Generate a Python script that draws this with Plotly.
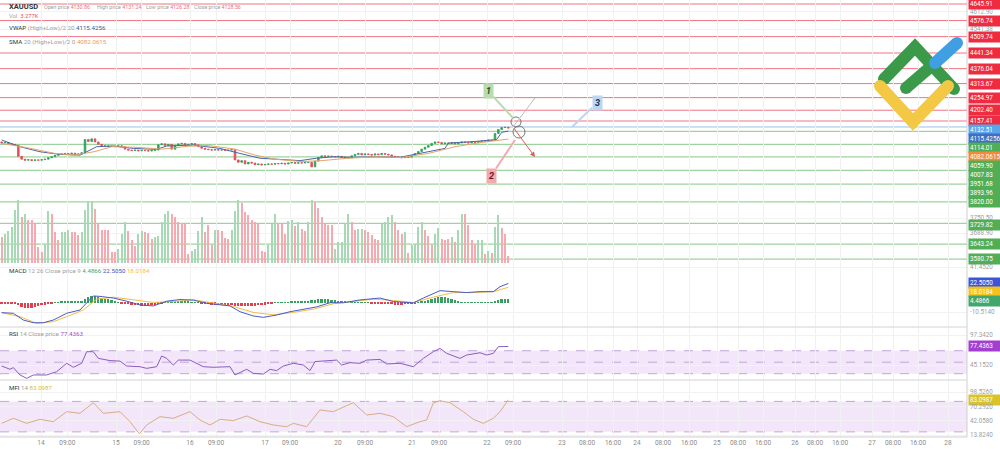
import plotly.graph_objects as go

# ---------------- data ----------------
first_open = 4070.0
closes = [
    4066, 4068, 4062, 4060, 4056, 4010, 3998, 3994, 3996, 3993,
    3995, 3994, 3996, 3998, 4004, 4008, 4014, 4018, 4020, 4022,
    4021, 4023, 4020, 4019, 4025, 4080, 4072, 4083, 4070, 4060,
    4054, 4052, 4053, 4051, 4052, 4054, 4050, 4040, 4036, 4034,
    4036, 4033, 4035, 4034, 4032, 4035, 4036, 4058, 4062, 4055,
    4060, 4040, 4055, 4062, 4064, 4058, 4060, 4063, 4058, 4050,
    4044, 4040, 4038, 4036, 4038, 4036, 4037, 4035, 4036, 4038,
    3995, 3985, 3992, 3978, 3985, 3982, 3975, 3978, 3974, 3976,
    3978, 3977, 3980, 3979, 3981, 3978, 3982, 3984, 3981, 3983,
    3982, 3984, 3985, 3966, 3990, 4005, 4012, 4010, 4011, 4009,
    4008, 4010, 4005, 4006, 4004, 4012, 4018, 4022, 4016, 4020,
    4018, 4015, 4020, 4017, 4022, 4019, 4016, 4010, 4008, 4006,
    4004, 4008, 4006, 4014, 4022, 4030, 4040, 4048, 4055, 4064,
    4070, 4068, 4062, 4066, 4064, 4067, 4062, 4066, 4070, 4068,
    4066, 4069, 4068, 4072, 4074, 4073, 4078, 4076, 4105, 4122,
    4130, 4130.86, 4128.56]
last_high, last_low = 4131.24, 4126.28

volumes = [
    12.7, 14.3, 15.6, 17.6, 25.8, 31.0, 22.5, 24.1, 21.2, 20.9,
    19.2, 7.8, 5.4, 9.5, 25.4, 24.1, 15.2, 11.1, 15.2, 15.2,
    16.0, 15.2, 15.2, 13.5, 15.2, 26.1, 30.3, 30.3, 26.6, 19.2,
    16.3, 16.3, 16.0, 5.4, 5.4, 7.0, 14.3, 20.0, 15.6, 11.4,
    8.2, 14.3, 15.6, 15.2, 14.7, 11.9, 12.7, 13.0, 20.0, 24.1,
    25.4, 24.1, 22.5, 20.0, 19.6, 19.2, 4.2, 5.9, 7.0, 15.6,
    22.5, 15.2, 18.4, 8.6, 16.3, 16.3, 15.6, 12.4, 11.9, 16.0,
    25.4, 30.6, 29.3, 24.9, 23.3, 20.9, 20.0, 19.2, 5.9, 5.4,
    8.6, 19.2, 23.8, 19.6, 18.9, 14.3, 20.5, 21.2, 17.9, 20.0,
    16.8, 15.6, 20.0, 31.0, 29.8, 27.1, 22.5, 19.2, 18.4, 18.4,
    7.0, 10.3, 10.3, 19.6, 24.1, 20.0, 16.3, 16.8, 16.8, 16.3,
    15.2, 13.5, 11.9, 11.1, 19.2, 20.0, 22.5, 23.3, 20.0, 16.3,
    14.3, 15.2, 4.9, 8.6, 9.5, 17.6, 20.0, 16.0, 13.0, 8.6,
    14.0, 17.3, 11.9, 11.4, 11.9, 12.7, 10.3, 16.3, 23.8, 23.8,
    18.4, 11.1, 9.5, 11.1, 11.1, 4.2, 5.9, 4.9, 17.6, 23.3,
    17.3, 14.3, 3.277]
vol_dir = ("rgggggrgrr" "rrrggrrrgg" "grrrggggrr" "rrrrrgggrr" "rggrrrgggg"
           "grrrrrrggg" "grrrgrrrrg" "ggrrrrrrrr" "gggrrrggrg" "rrggrrrrrr"
           "gggggrrggr" "rrrrggggrr" "rgrggggrrr" "ggrrrgrggr" "rrrggrgrgg" "rrr")

vwap_x = [0, 5.5, 11.5, 17.5, 23.5, 25.5, 28.5, 33.5, 39.5, 46.5,
          49.5, 57.5, 65.5, 71.5, 77.5, 89.5, 94.5, 99.5, 104.5, 112,
          119.5, 133, 134, 142, 148.5, 150, 152]
vwap_y = [4078, 4050, 4029, 4018, 4015, 4029, 4050, 4053, 4043, 4039,
          4053, 4057, 4043, 4022, 4002, 3992, 4002, 4008, 4006, 4008,
          4006, 4043, 4065, 4072, 4080, 4110, 4115.4256]
sma_x = [0, 8, 16, 22, 28, 33, 40, 48, 56, 62, 70, 76, 82, 90, 96, 104,
         112, 120, 128, 136, 144, 150, 152]
sma_y = [4064, 4045, 4022, 4015, 4030, 4050, 4048, 4040, 4052, 4055, 4040,
         4015, 3998, 3988, 3992, 4002, 4008, 4005, 4022, 4050, 4068, 4078, 4082.0615]

macd_hist = (
    [-0.3, -0.3, -0.3, -0.3]
    + [-1.5, -3, -4.5, -5.5, -6, -5.8, -5, -4, -3, -2]
    + [-1, -0.5]
    + [0.8, 1, 1.2, 1.5, 1.5, 1.8, 2, 2, 2.2, 4, 7, 8.5, 8, 7, 6, 5, 4, 3, 2, 1]
    + [-0.5, -1, -1.5, -2, -2.5, -3, -3.5, -3.5, -3, -3, -2.5, -1.5, -0.5]
    + [0.5, 1.5, 2, 2, 2, 1.5, 1.5, 1.5, 1, 1, 0.5]
    + [-0.5, -1, -1.5, -2, -2, -2.5, -2.5, -3, -3, -3, -3.5, -4, -4, -4, -4,
       -3.5, -3.5, -3, -2.5, -2, -1.5, -0.5]
    + [0.5, 0.5, 1, 1, 1, 1.5, 1.5, 1.5, 1.5, 2, 2.5, 3, 3.5, 4, 4.5, 4.5, 4,
       3.5, 3, 2.5, 2, 1.5]
    + [1, 0.5, 0.5, 0.5, 0.5, 0.3, 0.2, -0.2, -0.5, -0.8, -1, -1.2]
    + [-1.5, -1.8, -2, -2, -2, -1.8, -1.5, -1, -0.5]
    + [0.5, 1.5, 2.5, 3.5, 4.5, 5.5, 6.5, 7, 6.5, 5.5, 4.5, 3.5, 2]
    + [1, 0.5, 0.5, 0.3, 0.3, 0.3, 0.3, 0.3, 0.3, 0.5]
    + [2, 3.5, 4.5, 4.6, 4.4866])
macd_x = [0, 3.5, 6.5, 9.5, 12.5, 15.5, 19.5, 23.5, 25.5, 27.5,
          29.5, 33.5, 37.5, 41.5, 45.5, 49.5, 53.5, 57.5, 61.5, 68.5,
          71.5, 75.5, 78.5, 82.5, 86.5, 90.5, 94.5, 98.5, 102.5, 107.5,
          113.5, 117.5, 123.5, 126.5, 131.5, 135.5, 139.5, 143.5, 147.5, 149.5, 152]
macd_v = [-11.3, -12.0, -19.8, -22.9, -22.9, -19.8, -12.0, -8.2, 0.0, 8.0,
          7.5, 5.6, 2.0, -2.4, -3.5, 2.0, 3.9, 3.2, -0.5, -3.5,
          -10.2, -15.1, -16.7, -14.0, -10.2, -7.5, -4.6, 0.2, 0.2, 3.4,
          5.6, 1.6, 0.0, 5.6, 14.1, 13.0, 11.9, 13.0, 13.0, 18.7, 22.5050]
signal_x = [0, 5.5, 10.5, 15.5, 19.5, 24.5, 28.5, 33.5, 39.5, 45.5,
            51.5, 57.5, 63.5, 69.5, 75.5, 81.5, 87.5, 93.5, 99.5, 105.5,
            111.5, 117.5, 123.5, 129.5, 135.5, 141.5, 147.5, 152]
signal_v = [-11.3, -15.9, -23.6, -21.7, -15.9, -8.2, 4.3, 6.6, 3.6, 0.5,
            1.6, 3.6, -0.2, -4.1, -11.0, -13.7, -11.0, -7.2, -1.0, 1.6,
            4.3, 2.8, 0.5, 6.6, 11.9, 11.9, 13.0, 18.0184]

rsi_x = [0, 2.5, 3.5, 5.5, 7.5, 9.5, 13.5, 16.5, 19.5, 21.5,
         24, 25.5, 27.5, 29, 32.5, 35.5, 37.5, 41.5, 43.5, 46.5,
         48, 49.5, 51.5, 53, 56.5, 58.5, 60.5, 63.5, 68.5, 70,
         73.5, 75.5, 78.5, 80.5, 82.5, 84.5, 87.5, 90.5, 92.5, 94,
         97.5, 100.5, 102, 104.5, 107.5, 109.5, 113.5, 115.5, 119.5, 123.5,
         126.5, 129.5, 131.5, 133.5, 137.5, 139.5, 143.5, 145.5, 147.5, 149, 152]
rsi_v = [43.4, 37.7, 40.6, 27.8, 22.0, 27.8, 27.8, 33.5, 48.1, 41.2,
         48.1, 68.3, 68.3, 56.7, 52.8, 51.9, 43.4, 42.2, 39.3, 42.2,
         60.8, 56.7, 45.1, 53.7, 53.7, 48.1, 42.2, 41.2, 42.2, 27.8,
         37.7, 30.6, 29.4, 37.7, 35.4, 43.4, 48.1, 45.1, 35.4, 51.1,
         52.8, 53.7, 45.1, 49.2, 48.1, 53.7, 54.9, 47.0, 48.1, 42.2,
         56.7, 68.3, 74.1, 65.4, 56.7, 62.5, 66.5, 62.5, 65.4, 77.0, 77.4363]

mfi_x = [0, 3.5, 7.5, 11.5, 15.5, 19.5, 23.5, 27.5, 30.5, 35.5,
         38.5, 41.3, 43.5, 47.5, 51.5, 56.5, 59.5, 62.5, 65.5, 69.5,
         73.5, 77.5, 81.5, 85.5, 87.5, 91.5, 95.5, 99.5, 105.5, 109.5,
         113.5, 117.5, 119.5, 121.5, 125.5, 127.5, 129.5, 131.5, 134.5, 138.5,
         141.5, 144.5, 147.5, 149.5, 152]
mfi_v = [36.8, 46.7, 36.8, 44.7, 40.1, 59.8, 56.5, 77.5, 56.5, 59.8,
         40.1, 16.0, 33.5, 50.0, 46.7, 59.8, 43.4, 33.5, 44.7, 42.1,
         51.3, 40.1, 33.5, 30.2, 36.8, 30.2, 63.1, 59.8, 77.5, 53.2,
         56.5, 50.0, 40.1, 30.2, 40.1, 43.4, 76.9, 81.4, 77.5, 59.8,
         44.7, 36.8, 46.7, 59.8, 83.0987]

resistance_levels = [4645.91, 4576.74, 4509.74, 4441.34, 4376.04, 4313.67,
                     4254.97, 4202.40, 4157.41]
blue_level = 4132.51
support_levels = [4114.01, 4059.90, 4007.83, 3951.68, 3893.96, 3820.00,
                  3729.82, 3643.24, 3580.75]
price_ticks = [4612.90, 4541.38, 3750.50, 3688.90]
macd_ticks = [41.4520, -10.5140]
rsi_ticks = [97.3420, 45.1520, 19.0570]
mfi_ticks = [98.5260, 70.2920, 42.0580, 13.8240]

x_tick_pos = [11.8, 19.7, 34.3, 42.0, 56.5, 64.3, 79.0, 86.5, 100.9, 109.0,
              123.1, 131.2, 145.6, 153.4, 168.1, 175.6, 183.4, 190.6, 198.4,
              206.2, 214.6, 220.9, 228.4, 238.0, 244.0, 251.5, 261.1, 267.4,
              274.9, 283.9]
x_tick_text = ["14", "09:00", "15", "09:00", "16", "09:00", "17", "09:00", "20",
               "09:00", "21", "09:00", "22", "09:00", "23", "08:00", "16:00",
               "24", "08:00", "16:00", "25", "08:00", "16:00", "26", "08:00",
               "16:00", "27", "08:00", "16:00", "28"]

# ---------------- layout geometry ----------------
W, H = 1000, 449
MR, MB = 33, 12
PW, PH = W - MR, H - MB
FONT = "Roboto"

panels = {"main": (0, 263), "macd": (263, 327), "rsi": (327, 380), "mfi": (380, 437)}
ranges = {"main": [3564.6, 4662.6], "macd": [-27.84, 46.07],
          "rsi": [19.06, 111.26], "mfi": [9.88, 122.16]}
yrefs = {"main": "y", "macd": "y3", "rsi": "y4", "mfi": "y5"}


def dom(name):
    t, b = panels[name]
    return [1 - b / PH, 1 - t / PH]


def val_px(name, v):
    t, b = panels[name]
    lo, hi = ranges[name]
    return t + (hi - v) / (hi - lo) * (b - t)


def pxx(px):
    return px / PW


def pxy(py):
    return 1 - py / PH


# ---------------- colours ----------------
UP, DOWN = "#2ea35a", "#e64b5b"
RED_BOX, GREEN_BOX = "#ee2b41", "#52ad57"

n = len(closes)
xs = list(range(n))
opens = [first_open] + closes[:-1]
highs = [max(o, c) for o, c in zip(opens, closes)]
lows = [min(o, c) for o, c in zip(opens, closes)]
highs[-1], lows[-1] = last_high, last_low

fig = go.Figure()

# volume (overlay on price pane)
vol_cols = ["#a6d9b4" if d == "g" else "#f5a9b1" for d in vol_dir]
fig.add_trace(go.Bar(x=list(range(len(volumes))), y=volumes, marker_color=vol_cols,
                     marker_line_width=0, width=0.62, yaxis="y2", hoverinfo="skip"))

fig.add_trace(go.Candlestick(
    x=xs, open=opens, high=highs, low=lows, close=closes, yaxis="y",
    increasing=dict(line=dict(color=UP, width=0.8), fillcolor=UP),
    decreasing=dict(line=dict(color=DOWN, width=0.8), fillcolor=DOWN),
    whiskerwidth=0, hoverinfo="skip"))

fig.add_trace(go.Scatter(x=vwap_x, y=vwap_y, mode="lines", yaxis="y",
                         line=dict(color="#4b66a8", width=1)))
fig.add_trace(go.Scatter(x=sma_x, y=sma_y, mode="lines", yaxis="y",
                         line=dict(color="#e6a56a", width=1)))

# MACD
hist_cols = ["#3a9d62" if v >= 0 else "#e0414f" for v in macd_hist]
fig.add_trace(go.Bar(x=list(range(len(macd_hist))), y=macd_hist, marker_color=hist_cols,
                     marker_line_width=0, width=0.55, yaxis="y3"))
fig.add_trace(go.Scatter(x=signal_x, y=signal_v, mode="lines", yaxis="y3",
                         line=dict(color="#f2bd45", width=1)))
fig.add_trace(go.Scatter(x=macd_x, y=macd_v, mode="lines", yaxis="y3",
                         line=dict(color="#4a5cc4", width=1)))

# RSI / MFI
fig.add_trace(go.Scatter(x=rsi_x, y=rsi_v, mode="lines", yaxis="y4",
                         line=dict(color="#8a5cc0", width=1)))
fig.add_trace(go.Scatter(x=mfi_x, y=mfi_v, mode="lines", yaxis="y5",
                         line=dict(color="#d8ad82", width=1)))

shapes = []
annotations = []

# level lines
for v in resistance_levels:
    shapes.append(dict(type="line", xref="paper", yref="y", x0=0, x1=1, y0=v, y1=v,
                       line=dict(color="rgba(236,70,92,0.75)", width=1), layer="between"))
shapes.append(dict(type="line", xref="paper", yref="y", x0=0, x1=1, y0=blue_level,
                   y1=blue_level, line=dict(color="rgba(110,165,230,0.7)", width=1),
                   layer="between"))
for v in support_levels:
    shapes.append(dict(type="line", xref="paper", yref="y", x0=0, x1=1, y0=v, y1=v,
                       line=dict(color="rgba(95,180,95,0.6)", width=1.2), layer="between"))

# RSI / MFI bands
shapes.append(dict(type="rect", xref="paper", yref="y4", x0=0, x1=1, y0=30, y1=70,
                   fillcolor="#f3e6fb", line_width=0, layer="below"))
for v in (30, 50, 70):
    shapes.append(dict(type="line", xref="paper", yref="y4", x0=0, x1=1, y0=v, y1=v,
                       line=dict(color="#c2a6d6", width=1, dash="dash"), layer="between"))
shapes.append(dict(type="rect", xref="paper", yref="y5", x0=0, x1=1, y0=20, y1=80,
                   fillcolor="#f3e6fb", line_width=0, layer="below"))
for v in (20, 80):
    shapes.append(dict(type="line", xref="paper", yref="y5", x0=0, x1=1, y0=v, y1=v,
                       line=dict(color="#c2a6d6", width=1, dash="dash"), layer="between"))

# frame lines
shapes.append(dict(type="line", xref="paper", yref="paper", x0=1, x1=1, y0=0, y1=1,
                   line=dict(color="#cfcfcf", width=1)))
shapes.append(dict(type="line", xref="paper", yref="paper", x0=0, x1=1, y0=0, y1=0,
                   line=dict(color="#cfcfcf", width=1)))
for name in ("rsi", "mfi"):
    yy = pxy(panels[name][0])
    shapes.append(dict(type="line", xref="paper", yref="paper", x0=0, x1=1, y0=yy, y1=yy,
                       line=dict(color="#e2e2e2", width=1.5)))

# drawings: circles, lines, arrow, callouts
shapes.append(dict(type="circle", xref="x", yref="y", xsizemode="pixel", ysizemode="pixel",
                   xanchor=154.3, yanchor=4153.3, x0=-5, x1=5, y0=-5, y1=5,
                   line=dict(color="#777", width=1)))
shapes.append(dict(type="circle", xref="x", yref="y", xsizemode="pixel", ysizemode="pixel",
                   xanchor=155.2, yanchor=4111.5, x0=-6, x1=6, y0=-6, y1=6,
                   line=dict(color="#777", width=1)))
shapes.append(dict(type="line", xref="x", yref="y", x0=153.4, y0=4132.3, x1=160, y1=4253.5,
                   line=dict(color="#bdbdbd", width=1)))
annotations.append(dict(x=160, y=4007.4, ax=153.4, ay=4132.3, xref="x", yref="y",
                        axref="x", ayref="y", text="", showarrow=True, arrowhead=2,
                        arrowsize=1, arrowwidth=1, arrowcolor="#e05a5a"))
callouts = [(153.4, 4170.0, -25, -27, "1", "#b9dcae", "#2d4a2d"),
            (154.0, 4078.2, -24, 36, "2", "#f2a9b0", "#6a1a22"),
            (171.1, 4132.4, 25, -24, "3", "#bcd6f2", "#1d3355")]
for x, y, ax, ay, t, bg, fc in callouts:
    annotations.append(dict(x=x, y=y, xref="x", yref="y", ax=ax, ay=ay, text=f"<b><i>{t}</i></b>",
                            showarrow=True, arrowhead=0, arrowwidth=2, arrowcolor=bg,
                            bgcolor=bg, borderpad=2, font=dict(size=9, color=fc, family=FONT)))

# logo (decoration)
def P(px, py):
    return f"{pxx(px):.5f},{pxy(py):.5f}"

logo = [([(884, 79), (915, 47), (954, 89)], "#3b9a49", 12),
        ([(880, 86), (913, 122), (948, 86)], "#f3c845", 12),
        ([(906, 88), (935, 63)], "#3b9a49", 12),
        ([(935, 63), (957, 43)], "#3f9fe2", 12)]
for pts, col, lw in logo:
    path = "M " + " L ".join(P(a, b) for a, b in pts)
    shapes.append(dict(type="path", xref="paper", yref="paper", path=path,
                       line=dict(color=col, width=lw)))
    for a, b in (pts[0], pts[-1]):
        shapes.append(dict(type="circle", xref="paper", yref="paper", xsizemode="pixel",
                           ysizemode="pixel", xanchor=pxx(a), yanchor=pxy(b),
                           x0=-lw / 2, x1=lw / 2, y0=-lw / 2, y1=lw / 2,
                           fillcolor=col, line_width=0))

# legends (top-left texts)
GREY, DARK = "#a0a0a0", "#333"
def sp(t, c):
    return f"<span style='color:{c}'>{t}</span>"

PR = "#e8707c"
legend = [
    (7, 7, 7.5, "<b>XAUUSD</b>"),
    (42, 7, 5.3, sp("Open price ", GREY) + sp(f"{opens[-1]:.2f}", PR)),
    (95, 7, 5.3, sp("High price ", GREY) + sp(f"{highs[-1]:.2f}", PR)),
    (144, 7, 5.3, sp("Low price ", GREY) + sp(f"{lows[-1]:.2f}", PR)),
    (192, 7, 5.3, sp("Close price ", GREY) + sp(f"{closes[-1]:.2f}", PR)),
    (7, 15.5, 5.8, sp("Vol. ", GREY) + sp(f"{volumes[-1]:.3f}K", "#e0505e")),
    (7, 28.5, 6.2, "VWAP " + sp("(High+Low)/2 20 ", GREY) + sp(f"{vwap_y[-1]:.4f}", "#3d5a8f")),
    (7, 42, 6.2, "SMA " + sp("20 (High+Low)/2 0 ", GREY) + sp(f"{sma_y[-1]:.4f}", "#e8a060")),
    (7, 271, 6.2, "MACD " + sp("12 26 Close price 9 ", GREY) + sp(f"{macd_hist[-1]:.4f} ", "#43a66d")
     + sp(f"{macd_v[-1]:.4f} ", "#3f51c0") + sp(f"{signal_v[-1]:.4f}", "#f0c040")),
    (7, 333.5, 6.2, "RSI " + sp("14 Close price ", GREY) + sp(f"{rsi_v[-1]:.4f}", "#9c4dcc")),
    (7, 387.5, 6.2, "MFI " + sp("14 ", GREY) + sp(f"{mfi_v[-1]:.4f}", "#d6c02e")),
]
for x, y, s, t in legend:
    annotations.append(dict(xref="paper", yref="paper", x=pxx(x), y=pxy(y), xanchor="left",
                            yanchor="middle", text=t, showarrow=False,
                            font=dict(size=s, color=DARK, family=FONT)))

# right-hand scale: value boxes and grey tick labels, stacked top to bottom
right_items = []  # (panel, value, text, bg or None)
for v in resistance_levels:
    right_items.append(("main", v, f"{v:.2f}", RED_BOX))
right_items += [("main", blue_level, f"{blue_level:.2f}", "#5aa6ea"),
                ("main", vwap_y[-1], f"{vwap_y[-1]:.4f}", "#3e6fc2"),
                ("main", sma_y[-1], f"{sma_y[-1]:.4f}", "#f28a3a")]
for v in support_levels:
    right_items.append(("main", v, f"{v:.2f}", GREEN_BOX))
right_items += [("macd", macd_v[-1], f"{macd_v[-1]:.4f}", "#3b55d9"),
                ("macd", signal_v[-1], f"{signal_v[-1]:.4f}", "#f4c21e"),
                ("macd", macd_hist[-1], f"{macd_hist[-1]:.4f}", "#43a66d"),
                ("rsi", rsi_v[-1], f"{rsi_v[-1]:.4f}", "#a33fd0"),
                ("mfi", mfi_v[-1], f"{mfi_v[-1]:.4f}", "#d9c22a")]
for name, ticks in (("main", price_ticks), ("macd", macd_ticks),
                    ("rsi", rsi_ticks), ("mfi", mfi_ticks)):
    for v in ticks:
        right_items.append((name, v, f"{v:.2f}" if name == "main" else f"{v:.4f}", None))

right_items.sort(key=lambda it: val_px(it[0], it[1]))
prev_pos, prev_box = None, False
for name, v, txt, bg in right_items:
    nat = val_px(name, v)
    if prev_pos is None:
        pos = nat
    else:
        gap = 9.0 if (bg is not None and prev_box) else 7.0
        pos = max(nat, prev_pos + gap)
    prev_pos, prev_box = pos, bg is not None
    ann = dict(xref="paper", yref=yrefs[name], x=1, y=v, xanchor="left", yanchor="middle",
               xshift=1, yshift=-(pos - nat), text=txt, showarrow=False, width=31,
               align="left")
    if bg is None:
        ann.update(font=dict(size=6.3, color="#a0a0a0", family=FONT))
    else:
        ann.update(bgcolor=bg, borderpad=1, font=dict(size=6.3, color="white", family=FONT))
    annotations.append(ann)


def yax(name, ticks):
    return dict(domain=dom(name), range=ranges[name], side="right", anchor="x",
                tickvals=ticks, showticklabels=False, ticks="",
                showgrid=True, gridcolor="#f2f2f2", zeroline=False, showline=False,
                fixedrange=True)


fig.update_layout(
    width=W, height=H, margin=dict(l=0, r=MR, t=0, b=MB),
    paper_bgcolor="white", plot_bgcolor="white", showlegend=False,
    bargap=0, hovermode=False,
    xaxis=dict(range=[-0.5, 289.6], tickvals=x_tick_pos, ticktext=x_tick_text,
               tickfont=dict(size=6.5, color="#8a8a8a", family=FONT), ticks="",
               showgrid=True, gridcolor="#f1f1f1", zeroline=False, showline=False,
               rangeslider=dict(visible=False), anchor="free", position=0),
    yaxis=yax("main", price_ticks),
    yaxis2=dict(overlaying="y", range=[0, 128.6], visible=False, fixedrange=True),
    yaxis3=yax("macd", macd_ticks),
    yaxis4=yax("rsi", rsi_ticks),
    yaxis5=yax("mfi", mfi_ticks),
    shapes=shapes, annotations=annotations,
)

fig.write_html("out.html")
